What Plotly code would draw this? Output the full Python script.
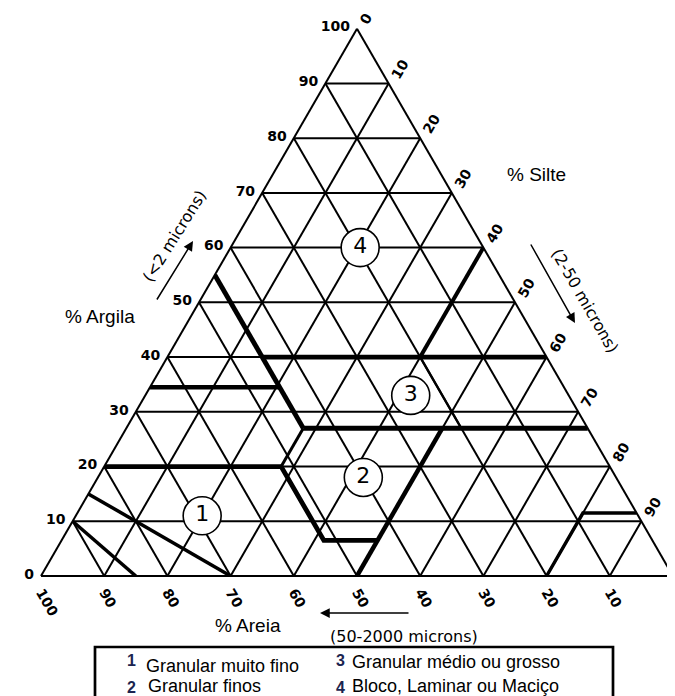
import plotly.graph_objects as go

W, H = 675, 696

# ---------------- data ----------------
tick_values = [0, 10, 20, 30, 40, 50, 60, 70, 80, 90, 100]
tick_labels = ["0", "10", "20", "30", "40", "50", "60", "70", "80", "90", "100"]

# boundary polylines: (% argila, % areia, % silte)
boundary_names = ["areia45", "argila34", "argila40", "silte40", "areia20", "argila27",
                  "silte28", "argila20_areia52", "silte50", "classe1_a", "classe1_b", "canto_silte"]
boundary_clay = [[55, 27], [34.5, 34.5], [40, 40], [60, 40], [40, 27], [27, 27],
                 [27, 20], [20, 20, 6.5, 6.5], [27, 0], [15, 0], [10, 0], [0, 11.5, 11.5]]
boundary_sand = [[45, 45], [65.5, 45], [45, 0], [0, 20], [20, 20], [45, 0],
                 [45, 52], [80, 52, 52, 43.5], [23, 50], [85, 70], [90, 85], [20, 8.5, 0]]
boundary_silt = [[0, 28], [0, 20.5], [15, 60], [40, 40], [40, 53], [28, 73],
                 [28, 28], [0, 28, 41.5, 50], [50, 50], [0, 30], [0, 15], [80, 80, 88.5]]

# class markers (circled numbers)
class_text = ["1", "2", "3", "4"]
class_clay = [11, 18, 33, 60]
class_sand = [69, 40, 25, 19.5]
class_silt = [20, 42, 42, 20.5]

legend_numbers = ["1", "2", "3", "4"]
legend_texts = ["Granular muito fino", "Granular finos",
                "Granular médio ou grosso", "Bloco, Laminar ou Maciço"]

# ---------------- styles ----------------
boundary_widths = [4.8, 4.5, 4.8, 4, 2.4, 4.8, 3, 4.8, 4.5, 3.5, 3.5, 3.4]


def px(x):
    return x / W


def py(y):
    return 1 - y / H


fig = go.Figure()

for name, a, b, c, w in zip(boundary_names, boundary_clay, boundary_sand, boundary_silt, boundary_widths):
    fig.add_trace(go.Scatterternary(
        a=a, b=b, c=c, mode="lines", name=name,
        line=dict(color="black", width=w),
        hoverinfo="skip", showlegend=False))

fig.add_trace(go.Scatterternary(
    a=class_clay, b=class_sand, c=class_silt, mode="markers+text",
    text=class_text, textposition="middle center",
    textfont=dict(family="DejaVu Sans", size=22, color="black"),
    marker=dict(symbol="circle", size=38, color="white",
                line=dict(color="black", width=1.6)),
    hoverinfo="skip", showlegend=False))

axis_common = dict(
    tickmode="array", tickvals=tick_values, ticktext=tick_labels,
    showgrid=True, gridcolor="black", gridwidth=1.5,
    showline=True, linecolor="black", linewidth=2,
    ticks="outside", ticklen=5, tickcolor="rgba(0,0,0,0)",
    tickfont=dict(family="DejaVu Sans", size=14, color="black", weight="bold"),
    title=dict(text=""), min=0,
)

fig.update_layout(
    width=W, height=H, autosize=False,
    margin=dict(l=0, r=0, t=0, b=0),
    paper_bgcolor="white", plot_bgcolor="white",
    showlegend=False,
    ternary=dict(
        sum=100,
        bgcolor="white",
        domain=dict(x=[px(33), px(665)], y=[py(568), py(20.7)]),
        aaxis=dict(axis_common, tickangle=0, ticklen=4),
        baxis=dict(axis_common, tickangle=60, ticklen=1),
        caxis=dict(axis_common, tickangle=-60, ticklen=3),
    ),
)

annotations = []
# axis names
annotations.append(dict(x=px(92), y=py(308), text="% Argila", showarrow=False,
                        font=dict(family="Liberation Sans", size=19, color="black"),
                        xanchor="center", yanchor="middle"))
annotations.append(dict(x=px(528), y=py(167), text="% Silte", showarrow=False,
                        font=dict(family="Liberation Sans", size=19, color="black"),
                        xanchor="center", yanchor="middle"))
annotations.append(dict(x=px(240), y=py(617), text="% Areia", showarrow=False,
                        font=dict(family="Liberation Sans", size=19, color="black"),
                        xanchor="center", yanchor="middle"))
# fraction sizes
annotations.append(dict(x=px(396), y=py(628), text="(50-2000 microns)", showarrow=False,
                        font=dict(family="DejaVu Sans", size=16, color="black"),
                        xanchor="center", yanchor="middle"))
annotations.append(dict(x=px(166), y=py(228), text="(<2 microns)", showarrow=False,
                        textangle=-58,
                        font=dict(family="DejaVu Sans", size=16, color="black"),
                        xanchor="center", yanchor="middle"))
annotations.append(dict(x=px(577), y=py(292), text="(2-50 microns)", showarrow=False,
                        textangle=60,
                        font=dict(family="DejaVu Sans", size=16, color="black"),
                        xanchor="center", yanchor="middle"))
# arrows
arrow_style = dict(text="", showarrow=True, arrowhead=2, arrowsize=1.3,
                   arrowwidth=1.5, arrowcolor="black", axref="pixel", ayref="pixel")
annotations.append(dict(arrow_style, x=px(312), y=py(605), ax=90, ay=0))
annotations.append(dict(arrow_style, x=px(185), y=py(233), ax=-37, ay=60))
annotations.append(dict(arrow_style, x=px(567), y=py(315), ax=-45, ay=-80))

# legend box texts
num_pos = [(123, 652), (123, 679), (332, 652), (332, 679)]
txt_pos = [(137, 658), (139, 678), (343, 654), (343, 678)]
for n, (x, y) in zip(legend_numbers, num_pos):
    annotations.append(dict(x=px(x), y=py(y), text="<b>" + n + "</b>", showarrow=False,
                            font=dict(family="Liberation Sans", size=16, color="#1b2450"),
                            xanchor="center", yanchor="middle", borderpad=0))
for t, (x, y) in zip(legend_texts, txt_pos):
    annotations.append(dict(x=px(x), y=py(y), text=t, showarrow=False,
                            font=dict(family="Liberation Sans", size=18, color="black"),
                            xanchor="left", yanchor="middle", borderpad=0))

fig.update_layout(annotations=annotations)

fig.add_shape(type="rect", xref="paper", yref="paper",
              x0=px(87), x1=px(605), y0=py(705), y1=py(639),
              line=dict(color="black", width=2.7), fillcolor="rgba(0,0,0,0)")

fig.write_html("out.html")
